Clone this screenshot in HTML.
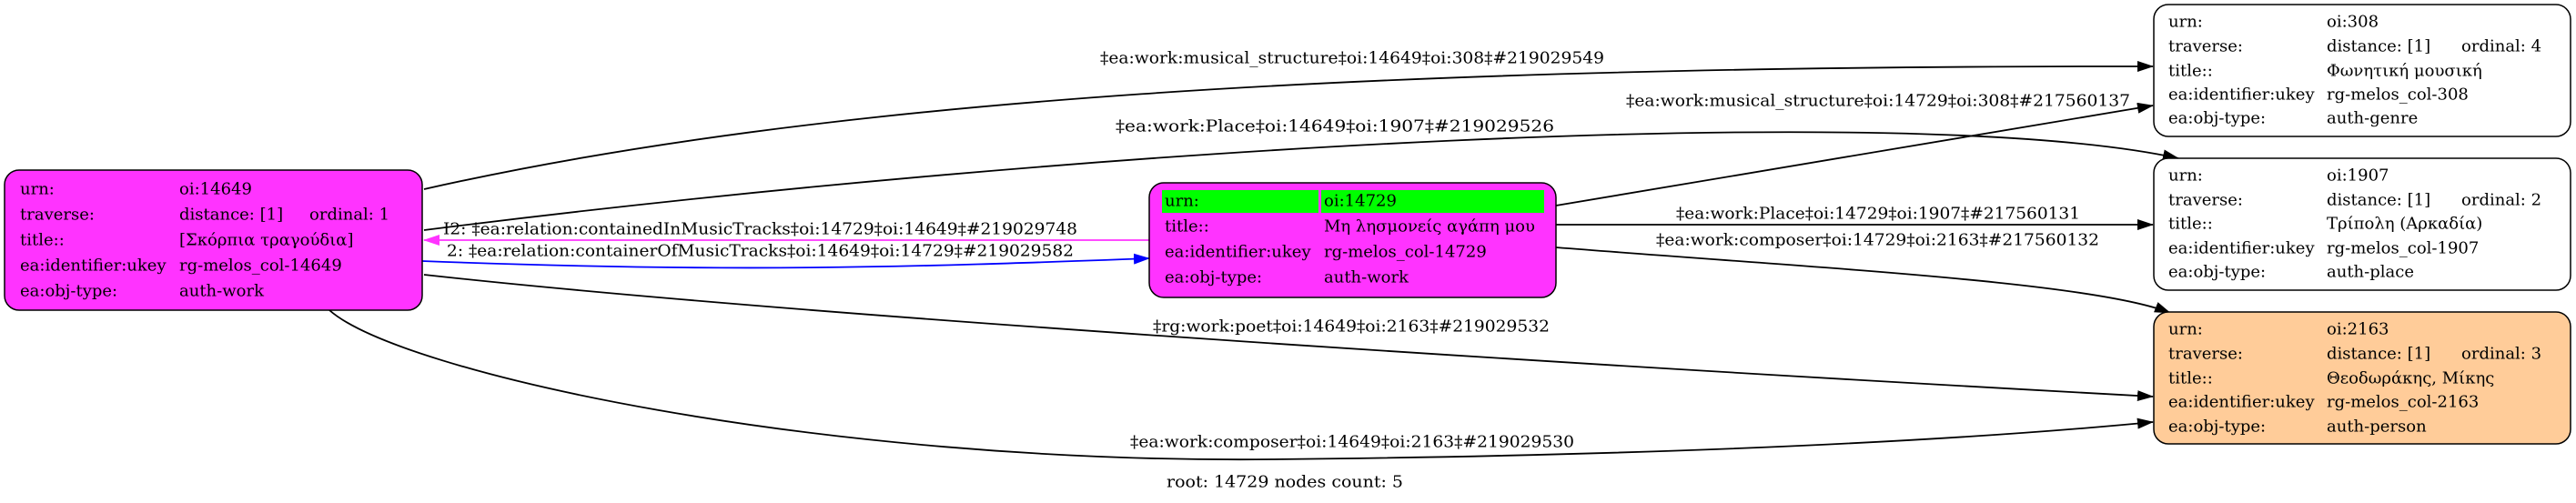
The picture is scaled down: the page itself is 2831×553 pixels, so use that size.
<!DOCTYPE html>
<html><head><meta charset="utf-8"><style>
html,body{margin:0;padding:0;background:#fff;}
svg{display:block;}
text{font-family:"DejaVu Serif","Liberation Serif",serif;font-size:18px;fill:#000;dominant-baseline:central;}
</style></head><body>
<svg width="2831" height="553" viewBox="0 0 2831 553" xmlns="http://www.w3.org/2000/svg">
<defs>
<marker id="ab" markerWidth="18" markerHeight="12" refX="17" refY="6" orient="auto" markerUnits="userSpaceOnUse"><path d="M0,0 L18,6 L0,12 z" fill="#000"/></marker>
<marker id="abl" markerWidth="18" markerHeight="12" refX="17" refY="6" orient="auto" markerUnits="userSpaceOnUse"><path d="M0,0 L18,6 L0,12 z" fill="#0000ff"/></marker>
<marker id="ap" markerWidth="18" markerHeight="12" refX="17" refY="6" orient="auto" markerUnits="userSpaceOnUse"><path d="M0,0 L18,6 L0,12 z" fill="#ff33ff"/></marker>
</defs>
<g fill="none" stroke="#000" stroke-width="1.8">
<path d="M466,208 C900,110 1500,72 2366,73" marker-end="url(#ab)"/>
<path d="M466,253 C1200,160 2100,110 2394,174" marker-end="url(#ab)"/>
<path d="M1710,226 L2366,116" marker-end="url(#ab)"/>
<path d="M1710,247 L2366,247" marker-end="url(#ab)"/>
<path d="M1710,272 C2000,295 2300,310 2385,344" marker-end="url(#ab)"/>
<path d="M466,302 C900,350 1800,405 2366,436" marker-end="url(#ab)"/>
<path d="M362,341 C440,410 900,510 1400,505 S2200,480 2366,464" marker-end="url(#ab)"/>
<path d="M1263,264 L466,264" stroke="#ff33ff" marker-end="url(#ap)"/>
<path d="M464,287 C800,300 1000,294 1263,284" stroke="#0000ff" marker-end="url(#abl)"/>
</g>
<text x="1209" y="64" textLength="554" lengthAdjust="spacingAndGlyphs">‡ea:work:musical_structure‡oi:14649‡oi:308‡#219029549</text>
<text x="1226" y="139" textLength="482" lengthAdjust="spacingAndGlyphs">‡ea:work:Place‡oi:14649‡oi:1907‡#219029526</text>
<text x="1787" y="111" textLength="554" lengthAdjust="spacingAndGlyphs">‡ea:work:musical_structure‡oi:14729‡oi:308‡#217560137</text>
<text x="1842" y="235" textLength="444" lengthAdjust="spacingAndGlyphs">‡ea:work:Place‡oi:14729‡oi:1907‡#217560131</text>
<text x="1820" y="264" textLength="487" lengthAdjust="spacingAndGlyphs">‡ea:work:composer‡oi:14729‡oi:2163‡#217560132</text>
<text x="1267" y="359" textLength="436" lengthAdjust="spacingAndGlyphs">‡rg:work:poet‡oi:14649‡oi:2163‡#219029532</text>
<text x="1242" y="486" textLength="488" lengthAdjust="spacingAndGlyphs">‡ea:work:composer‡oi:14649‡oi:2163‡#219029530</text>
<text x="487" y="252" textLength="697" lengthAdjust="spacingAndGlyphs">I2: ‡ea:relation:containedInMusicTracks‡oi:14729‡oi:14649‡#219029748</text>
<text x="491" y="276" textLength="689" lengthAdjust="spacingAndGlyphs">2: ‡ea:relation:containerOfMusicTracks‡oi:14649‡oi:14729‡#219029582</text>
<text x="1282" y="530" textLength="260" lengthAdjust="spacingAndGlyphs">root: 14729 nodes count: 5</text>

<rect x="5" y="187" width="459" height="154" rx="16" fill="#ff33ff" stroke="#000" stroke-width="1.5"/>
<text x="22" y="208">urn:</text><text x="197" y="208">oi:14649</text>
<text x="22" y="236">traverse:</text><text x="197" y="236">distance: [1]</text><text x="340" y="236">ordinal: 1</text>
<text x="22" y="264">title::</text><text x="197" y="264">[Σκόρπια τραγούδια]</text>
<text x="22" y="292">ea:identifier:ukey</text><text x="197" y="292">rg-melos_col-14649</text>
<text x="22" y="320">ea:obj-type:</text><text x="197" y="320">auth-work</text>

<rect x="1263" y="201" width="447" height="126" rx="16" fill="#ff33ff" stroke="#000" stroke-width="1.5"/>
<rect x="1277" y="209" width="172" height="25" fill="#00ff00"/>
<rect x="1452" y="209" width="245" height="25" fill="#00ff00"/>
<text x="1280" y="221">urn:</text><text x="1455" y="221">oi:14729</text>
<text x="1280" y="249">title::</text><text x="1455" y="249">Μη λησμονείς αγάπη μου</text>
<text x="1280" y="277">ea:identifier:ukey</text><text x="1455" y="277">rg-melos_col-14729</text>
<text x="1280" y="305">ea:obj-type:</text><text x="1455" y="305">auth-work</text>

<rect x="2367" y="5" width="458" height="145" rx="16" fill="#fff" stroke="#000" stroke-width="1.5"/>
<text x="2383" y="24">urn:</text><text x="2557" y="24">oi:308</text>
<text x="2383" y="51">traverse:</text><text x="2557" y="51">distance: [1]</text><text x="2705" y="51">ordinal: 4</text>
<text x="2383" y="78">title::</text><text x="2557" y="78">Φωνητική μουσική</text>
<text x="2383" y="104">ea:identifier:ukey</text><text x="2557" y="104">rg-melos_col-308</text>
<text x="2383" y="130">ea:obj-type:</text><text x="2557" y="130">auth-genre</text>

<rect x="2367" y="174" width="458" height="145" rx="16" fill="#fff" stroke="#000" stroke-width="1.5"/>
<text x="2383" y="193">urn:</text><text x="2557" y="193">oi:1907</text>
<text x="2383" y="220">traverse:</text><text x="2557" y="220">distance: [1]</text><text x="2705" y="220">ordinal: 2</text>
<text x="2383" y="246">title::</text><text x="2557" y="246">Τρίπολη (Αρκαδία)</text>
<text x="2383" y="273">ea:identifier:ukey</text><text x="2557" y="273">rg-melos_col-1907</text>
<text x="2383" y="299">ea:obj-type:</text><text x="2557" y="299">auth-place</text>

<rect x="2367" y="343" width="458" height="145" rx="16" fill="#ffcc99" stroke="#000" stroke-width="1.5"/>
<text x="2383" y="362">urn:</text><text x="2557" y="362">oi:2163</text>
<text x="2383" y="389">traverse:</text><text x="2557" y="389">distance: [1]</text><text x="2705" y="389">ordinal: 3</text>
<text x="2383" y="416">title::</text><text x="2557" y="416">Θεοδωράκης, Μίκης</text>
<text x="2383" y="442">ea:identifier:ukey</text><text x="2557" y="442">rg-melos_col-2163</text>
<text x="2383" y="469">ea:obj-type:</text><text x="2557" y="469">auth-person</text>
</svg>
</body></html>
